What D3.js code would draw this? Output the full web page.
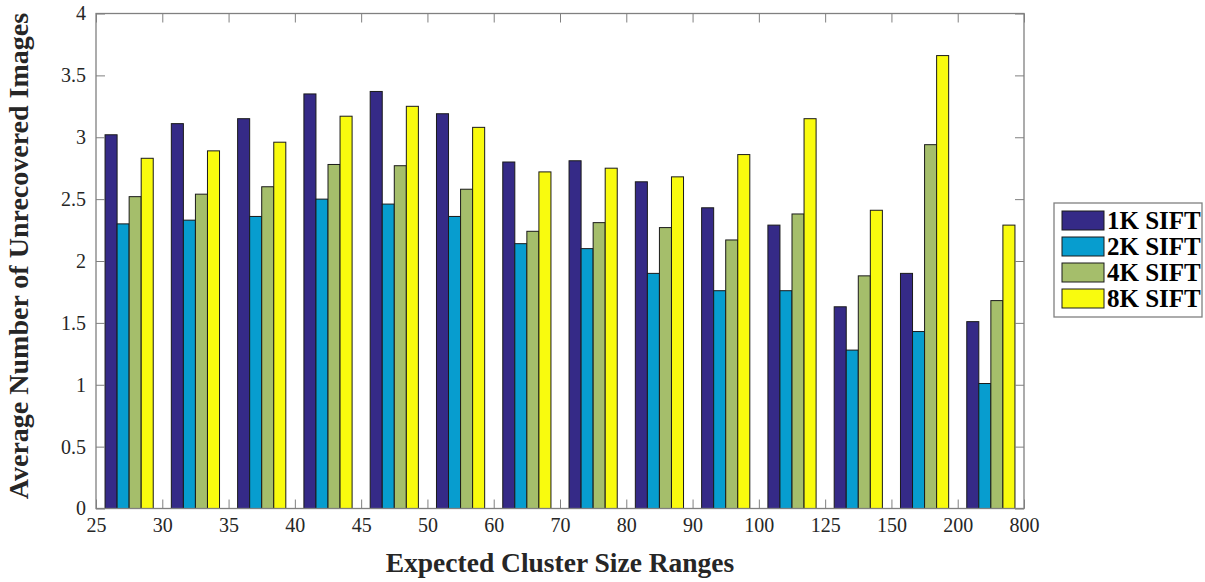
<!DOCTYPE html>
<html>
<head>
<meta charset="utf-8">
<script src="https://cdn.jsdelivr.net/npm/d3@7"></script>
<style>
  html, body { margin: 0; padding: 0; background: #fff; }
  svg { display: block; font-family: "Liberation Serif", "Times New Roman", serif; }
</style>
</head>
<body>
<svg id="chart" width="1205" height="582"></svg>
<script>
// Cluster size ranges (one group of bars per range)
const groups = ["25-30", "30-35", "35-40", "40-45", "45-50", "50-60", "60-70",
                "70-80", "80-90", "90-100", "100-125", "125-150", "150-200", "200-800"];
// Boundary tick labels along the x axis
const xTickLabels = ["25", "30", "35", "40", "45", "50", "60", "70", "80", "90",
                     "100", "125", "150", "200", "800"];
const yTicks = [0, 0.5, 1, 1.5, 2, 2.5, 3, 3.5, 4];

const seriesNames = ["1K SIFT", "2K SIFT", "4K SIFT", "8K SIFT"];
const sift1k = [3.02, 3.11, 3.15, 3.35, 3.37, 3.19, 2.80, 2.81, 2.64, 2.43, 2.29, 1.63, 1.90, 1.51];
const sift2k = [2.30, 2.33, 2.36, 2.50, 2.46, 2.36, 2.14, 2.10, 1.90, 1.76, 1.76, 1.28, 1.43, 1.01];
const sift4k = [2.52, 2.54, 2.60, 2.78, 2.77, 2.58, 2.24, 2.31, 2.27, 2.17, 2.38, 1.88, 2.94, 1.68];
const sift8k = [2.83, 2.89, 2.96, 3.17, 3.25, 3.08, 2.72, 2.75, 2.68, 2.86, 3.15, 2.41, 3.66, 2.29];
const seriesColors = ["#352a87", "#079dcf", "#a5be6b", "#f9fb0e"];

const seriesValues = [sift1k, sift2k, sift4k, sift8k];

const svg = d3.select("#chart");
const plot = { left: 96, right: 1024, top: 13.5, bottom: 508.5 };
const textColor = "#262626";
const axisColor = "#808080";

const x = d3.scaleBand()
  .domain(groups)
  .range([plot.left, plot.right])
  .paddingInner(0.273)
  .paddingOuter(0.1365);

const xSub = d3.scaleBand()
  .domain(seriesNames)
  .range([0, x.bandwidth()])
  .padding(0);

const xTicks = d3.scalePoint()
  .domain(xTickLabels)
  .range([plot.left, plot.right]);

const y = d3.scaleLinear()
  .domain([0, 4])
  .range([plot.bottom, plot.top]);

// Bars
const gBars = svg.append("g");
groups.forEach((grp, gi) => {
  seriesNames.forEach((name, si) => {
    const v = seriesValues[si][gi];
    gBars.append("rect")
      .attr("x", x(grp) + xSub(name))
      .attr("y", y(v))
      .attr("width", xSub.bandwidth())
      .attr("height", y(0) - y(v))
      .attr("fill", seriesColors[si])
      .attr("stroke", "#1a1a1a")
      .attr("stroke-width", 1);
  });
});

// Axes (ticks point inward, box on all four sides)
function styleAxis(g) {
  g.select(".domain").remove();
  g.selectAll(".tick line").attr("stroke", axisColor).attr("stroke-width", 1);
  g.selectAll(".tick text")
    .attr("fill", textColor)
    .style("font-size", "20px")
    .style("font-family", "'Liberation Serif', 'Times New Roman', serif");
}

svg.append("g")
  .attr("transform", `translate(0,${plot.bottom})`)
  .call(d3.axisBottom(xTicks).tickSizeInner(-9).tickSizeOuter(0).tickPadding(9))
  .call(styleAxis);

svg.append("g")
  .attr("transform", `translate(0,${plot.top})`)
  .call(d3.axisTop(xTicks).tickSizeInner(-9).tickSizeOuter(0).tickFormat(""))
  .call(styleAxis);

svg.append("g")
  .attr("transform", `translate(${plot.left},0)`)
  .call(d3.axisLeft(y).tickValues(yTicks).tickFormat(d => String(d))
          .tickSizeInner(-9).tickSizeOuter(0).tickPadding(10))
  .call(styleAxis);

svg.append("g")
  .attr("transform", `translate(${plot.right},0)`)
  .call(d3.axisRight(y).tickValues(yTicks).tickFormat("")
          .tickSizeInner(-9).tickSizeOuter(0))
  .call(styleAxis);

// Plot frame
svg.append("rect")
  .attr("x", plot.left)
  .attr("y", plot.top)
  .attr("width", plot.right - plot.left)
  .attr("height", plot.bottom - plot.top)
  .attr("fill", "none")
  .attr("stroke", axisColor)
  .attr("stroke-width", 1.3);

// Axis titles
svg.append("text")
  .attr("x", 560)
  .attr("y", 572)
  .attr("text-anchor", "middle")
  .attr("fill", textColor)
  .style("font-size", "27.5px")
  .style("font-weight", "bold")
  .text("Expected Cluster Size Ranges");

svg.append("text")
  .attr("transform", "translate(28,256) rotate(-90)")
  .attr("text-anchor", "middle")
  .attr("fill", textColor)
  .style("font-size", "28px")
  .style("font-weight", "bold")
  .text("Average Number of Unrecovered Images");

// Legend
const legend = svg.append("g");
legend.append("rect")
  .attr("x", 1054).attr("y", 203)
  .attr("width", 148).attr("height", 114)
  .attr("fill", "#fff")
  .attr("stroke", axisColor)
  .attr("stroke-width", 1.3);

seriesNames.forEach((name, i) => {
  const rowY = 211 + i * 26;
  legend.append("rect")
    .attr("x", 1062).attr("y", rowY)
    .attr("width", 42).attr("height", 19)
    .attr("fill", seriesColors[i])
    .attr("stroke", "#1a1a1a")
    .attr("stroke-width", 1);
  legend.append("text")
    .attr("x", 1107).attr("y", rowY + 18)
    .attr("fill", "#000")
    .style("font-size", "25px")
    .style("font-weight", "bold")
    .text(name);
});
</script>
</body>
</html>
